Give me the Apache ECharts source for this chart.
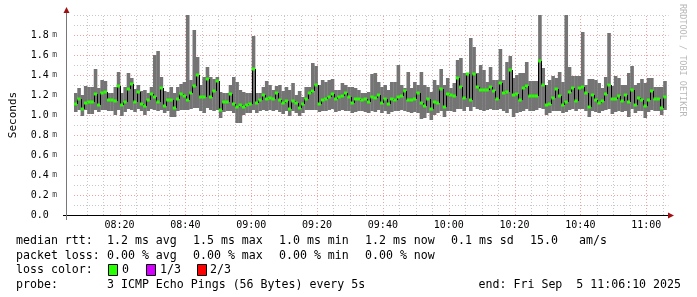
<!DOCTYPE html>
<html><head><meta charset="utf-8">
<script src="https://cdn.jsdelivr.net/npm/echarts@6/dist/echarts.min.js"></script>
<style>html,body{margin:0;padding:0;background:#fff}#c{width:697px;height:297px}</style>
</head><body><div id="c"></div>
<script>
// time axis: minutes after 08:00; window 08:06:10 .. 11:06:10, one sample per minute
const startMinute = 6 + 10 / 60;
const stepMinutes = 1;
const sampleCount = 180;

const medians = [
1.11,1.16,1.06,1.12,1.13,1.13,1.21,1.10,1.22,1.23,
1.15,1.15,1.14,1.29,1.10,1.13,1.26,1.31,1.13,1.23,
1.11,1.09,1.15,1.21,1.18,1.13,1.27,1.09,1.15,1.15,
1.07,1.16,1.21,1.19,1.15,1.22,1.29,1.40,1.18,1.18,
1.36,1.18,1.24,1.34,1.05,1.13,1.13,1.21,1.11,1.08,
1.10,1.08,1.10,1.11,1.46,1.12,1.15,1.20,1.16,1.17,
1.16,1.22,1.15,1.12,1.14,1.06,1.14,1.12,1.07,1.11,
1.16,1.22,1.24,1.30,1.11,1.15,1.16,1.18,1.21,1.16,
1.18,1.19,1.22,1.18,1.12,1.16,1.16,1.15,1.16,1.13,
1.18,1.17,1.20,1.12,1.16,1.11,1.16,1.15,1.18,1.19,
1.24,1.15,1.15,1.16,1.22,1.12,1.09,1.16,1.06,1.13,
1.12,1.26,1.08,1.21,1.20,1.19,1.37,1.28,1.17,1.41,
1.15,1.41,1.28,1.25,1.25,1.25,1.28,1.24,1.16,1.32,
1.22,1.23,1.45,1.20,1.21,1.15,1.27,1.29,1.19,1.19,
1.19,1.54,1.30,1.10,1.11,1.17,1.26,1.19,1.10,1.13,
1.23,1.27,1.14,1.27,1.28,1.22,1.08,1.20,1.15,1.12,
1.14,1.21,1.30,1.16,1.16,1.19,1.14,1.20,1.13,1.25,
1.10,1.17,1.15,1.09,1.15,1.24,1.16,1.16,1.07,1.18
];
const maxs = [
1.22,1.27,1.20,1.29,1.28,1.28,1.46,1.27,1.35,1.34,
1.22,1.22,1.28,1.43,1.22,1.28,1.42,1.37,1.26,1.30,
1.24,1.25,1.22,1.28,1.60,1.64,1.38,1.24,1.23,1.28,
1.22,1.28,1.31,1.33,2.00,1.35,1.85,1.58,1.30,1.38,
1.48,1.38,1.36,1.38,1.23,1.22,1.22,1.30,1.38,1.33,
1.25,1.23,1.22,1.22,1.79,1.22,1.22,1.28,1.34,1.30,
1.25,1.29,1.30,1.24,1.28,1.25,1.32,1.20,1.24,1.18,
1.28,1.28,1.52,1.49,1.30,1.35,1.33,1.35,1.36,1.25,
1.25,1.32,1.30,1.28,1.28,1.27,1.25,1.22,1.22,1.23,
1.41,1.42,1.33,1.28,1.30,1.25,1.33,1.33,1.50,1.30,
1.27,1.43,1.27,1.33,1.30,1.43,1.30,1.28,1.23,1.35,
1.30,1.46,1.30,1.37,1.27,1.32,1.55,1.57,1.42,1.42,
1.77,1.68,1.42,1.50,1.45,1.33,1.48,1.35,1.35,1.66,
1.35,1.53,1.59,1.37,1.40,1.42,1.42,1.53,1.34,1.34,
1.34,2.00,1.47,1.30,1.35,1.39,1.37,1.43,1.33,2.00,
1.48,1.39,1.39,1.39,1.83,1.30,1.36,1.36,1.35,1.32,
1.27,1.38,1.82,1.29,1.39,1.37,1.30,1.30,1.42,1.49,
1.30,1.32,1.36,1.32,1.37,1.37,1.28,1.28,1.28,1.34
];
const mins = [
1.03,1.05,0.99,1.05,1.01,1.01,1.05,1.03,1.05,1.05,
1.04,1.04,1.00,1.05,0.99,1.03,1.06,1.05,1.03,1.06,
1.04,1.00,1.04,1.06,1.05,1.04,1.05,1.02,1.04,0.98,
0.98,1.04,1.05,1.05,1.05,1.06,1.07,1.07,1.04,1.02,
1.07,1.05,1.04,1.05,0.97,1.03,1.04,1.04,1.02,0.92,
0.92,1.00,1.02,1.02,1.05,1.02,1.04,1.05,1.04,1.05,
1.04,1.05,1.03,1.01,1.04,0.99,1.04,1.02,0.99,1.02,
1.05,1.05,1.05,1.05,1.03,1.04,1.04,1.05,1.06,1.03,
1.04,1.05,1.04,1.04,1.02,1.03,1.04,1.04,1.03,1.02,
1.04,1.03,1.05,1.02,1.04,1.01,1.03,1.04,1.04,1.05,
1.04,1.03,1.02,1.03,1.02,0.96,0.97,1.02,0.95,1.00,
1.02,1.04,0.98,1.04,1.04,1.03,1.06,1.06,1.04,1.08,
1.04,1.08,1.06,1.05,1.04,1.05,1.06,1.05,1.05,1.06,
1.04,1.02,1.06,0.98,1.02,1.03,1.04,1.06,1.04,1.04,
1.05,1.07,1.06,1.00,1.02,1.04,1.04,1.04,1.02,1.03,
1.05,1.06,1.04,1.06,1.06,1.04,0.98,1.04,1.03,1.02,
1.04,1.05,1.06,1.01,1.03,1.04,1.03,1.04,0.98,1.06,
1.02,1.04,1.04,0.97,1.03,1.05,1.04,1.04,1.00,1.05
];

const yMax = 2.0;
const yInterval = 0.2;
const xLabelMinutes = [20, 40, 60, 80, 100, 120, 140, 160, 180];
const xMinorMinutes = [10,15,20,25,30,35,40,45,50,55,60,65,70,75,80,85,90,95,100,105,110,115,120,125,130,135,140,145,150,155,160,165,170,175,180,185];
const yMinorValues = [0.1,0.2,0.3,0.4,0.5,0.6,0.7,0.8,0.9,1.0,1.1,1.2,1.3,1.4,1.5,1.6,1.7,1.8,1.9,2.0];

const legendRows = [
  {y: 241, parts: [[16,'median rtt:'],[107,'1.2 ms avg'],[193,'1.5 ms max'],[279,'1.0 ms min'],[365,'1.2 ms now'],[451,'0.1 ms sd'],[530,'15.0'],[579,'am/s']]},
  {y: 256, parts: [[16,'packet loss:'],[107,'0.00 % avg'],[193,'0.00 % max'],[279,'0.00 % min'],[365,'0.00 % now']]},
  {y: 270, parts: [[16,'loss color:'],[122,'0'],[160,'1/3'],[210,'2/3']]},
  {y: 285, parts: [[16,'probe:'],[107,'3 ICMP Echo Pings (56 Bytes) every 5s']]}
];
const lossColors = [[108,'#26ff00'],[146,'#d400ff'],[197,'#ff0000']];

const mono = 'DejaVu Sans Mono';
const fmtTime = v => { const h = 8 + Math.floor(v / 60), m = Math.round(v % 60); return (h < 10 ? '0' : '') + h + ':' + (m < 10 ? '0' : '') + m; };

const chart = echarts.init(document.getElementById('c'), null, {renderer: 'canvas'});

const smokeData = maxs.map((mx, i) => [startMinute + i * stepMinutes, mins[i], mx]);
const medData = medians.map((m, i) => [startMinute + i * stepMinutes, m, i > 0 ? medians[i - 1] : m]);

const graphics = [];
legendRows.forEach(r => r.parts.forEach(p => graphics.push({type:'text', x:p[0], y:r.y, style:{text:p[1], font:'11.6px "'+mono+'"', fill:'#000', verticalAlign:'middle'}})));
graphics.push({type:'text', x: 681, y: 285, style:{text:'end: Fri Sep  5 11:06:10 2025', font:'11.6px "'+mono+'"', fill:'#000', verticalAlign:'middle', align:'right'}});
lossColors.forEach(c => graphics.push({type:'rect', shape:{x:c[0]+0.5, y:264.5, width:9, height:11}, style:{fill:c[1], stroke:'#000', lineWidth:1}}));
graphics.push({type:'text', x: 687, y: 4, rotation: -Math.PI/2, style:{text:'RRDTOOL / TOBI OETIKER', font:'8.5px "'+mono+'"', fill:'#b8b8b8'}});
// axis lines and arrows
graphics.push({type:'line', shape:{x1:63, y1:215.5, x2:668, y2:215.5}, style:{stroke:'#000', lineWidth:1}, z:50});
graphics.push({type:'line', shape:{x1:66.5, y1:220, x2:66.5, y2:12}, style:{stroke:'#777', lineWidth:1}, z:50});
graphics.push({type:'polygon', shape:{points:[[63.5,13],[69.5,13],[66.5,7]]}, style:{fill:'#a01010'}, z:51});
graphics.push({type:'polygon', shape:{points:[[668,212.5],[668,218.5],[674,215.5]]}, style:{fill:'#a01010'}, z:51});

chart.setOption({
  animation: false,
  backgroundColor: '#fff',
  grid: {left: 66.5, top: 15, width: 600, height: 200},
  xAxis: {
    type: 'value', min: startMinute, max: startMinute + sampleCount * stepMinutes,
    axisLine: {show: false},
    axisTick: {show: false},
    splitLine: {show: false},
    axisLabel: {customValues: xLabelMinutes, formatter: fmtTime, fontFamily: mono, fontSize: 10, color: '#000', margin: 5}
  },
  yAxis: {
    type: 'value', min: 0, max: yMax, interval: yInterval,
    name: 'Seconds', nameLocation: 'middle', nameGap: 55, nameRotate: 90,
    nameTextStyle: {fontFamily: mono, fontSize: 11, color: '#000'},
    axisLine: {show: false}, axisTick: {show: false}, splitLine: {show: false},
    axisLabel: {margin: 17, align: 'right',
      formatter: v => Math.abs(v - yMax) < 1e-6 ? '' : (v === 0 ? '{n|0.0} {u| }' : '{n|' + v.toFixed(1) + '} {u|m}'),
      rich: {n: {fontFamily: mono, fontSize: 10, color: '#000'}, u: {fontFamily: mono, fontSize: 8, color: '#444'}}}
  },
  graphic: graphics,
  series: [
    {
      type: 'custom', name: 'vgrid', silent: true, z: 1,
      data: xMinorMinutes.map(v => [v, v % 20 === 0 ? 1 : 0]),
      renderItem: (params, api) => {
        const a = api.coord([api.value(0), 0]), b = api.coord([api.value(0), yMax]);
        const x = Math.round(a[0]) + 0.5;
        return {type:'line', shape:{x1:x, y1:a[1], x2:x, y2:b[1]}, style:{stroke: api.value(1) ? '#f2a0a0' : '#c8c8c8', lineWidth:1, lineDash:[1,2]}};
      }
    },
    {
      type: 'custom', name: 'hgrid', silent: true, z: 1,
      data: yMinorValues.map(v => [v, (Math.round(v * 10) % 2 === 0 && v < 1.95) ? 1 : 0]),
      renderItem: (params, api) => {
        const a = api.coord([startMinute, api.value(0)]), b = api.coord([startMinute + sampleCount, api.value(0)]);
        const y = Math.round(a[1]) + 0.5;
        return {type:'line', shape:{x1:a[0], y1:y, x2:b[0] + 2, y2:y}, style:{stroke: api.value(1) ? '#f2a0a0' : '#c8c8c8', lineWidth:1, lineDash:[1,2]}};
      }
    },
    {
      type: 'custom', name: 'smoke', z: 2,
      data: smokeData,
      renderItem: (params, api) => {
        const t = api.value(0);
        const p0 = api.coord([t, api.value(2)]);
        const p1 = api.coord([t + stepMinutes, api.value(1)]);
        return {type:'rect', shape:{x:p0[0], y:p0[1], width:p1[0]-p0[0]+0.3, height:p1[1]-p0[1]}, style:{fill:'#747474'}};
      }
    },
    {
      type: 'custom', name: 'median', z: 3,
      data: medData,
      renderItem: (params, api) => {
        const t = api.value(0);
        const p0 = api.coord([t, api.value(1)]);
        const p1 = api.coord([t + stepMinutes, api.value(1)]);
        const pp = api.coord([t, api.value(2)]);
        return {type:'group', children:[
          {type:'line', shape:{x1:Math.round(p0[0])+0.5, y1:pp[1], x2:Math.round(p0[0])+0.5, y2:p0[1]}, style:{stroke:'#000', lineWidth:1}},
          {type:'rect', shape:{x:p0[0], y:p0[1]-1.5, width:p1[0]-p0[0], height:3}, style:{fill:'#26ff00'}}
        ]};
      }
    }
  ]
});
</script>
</body></html>
